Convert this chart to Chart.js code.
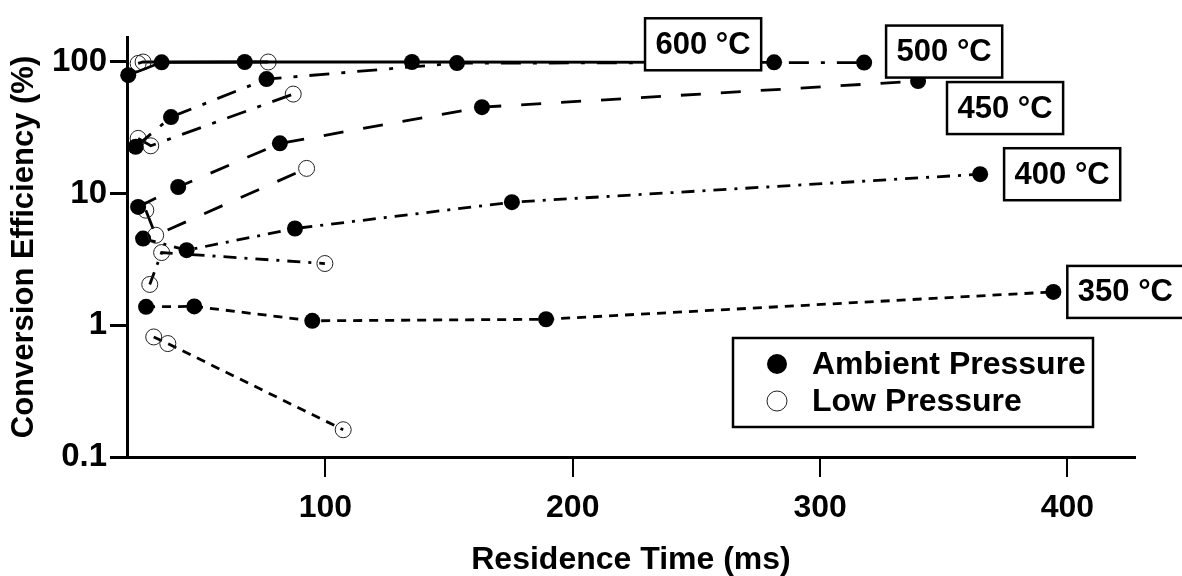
<!DOCTYPE html>
<html>
<head>
<meta charset="utf-8">
<script src="https://cdn.jsdelivr.net/npm/chart.js@4.4.1/dist/chart.umd.min.js"></script>
<style>
  html, body { margin: 0; padding: 0; background: #fff; }
  #wrap { width: 1182px; height: 576px; }
</style>
</head>
<body>
<div id="wrap"><canvas id="chart"></canvas></div>
<script>
const temps = ['600 °C', '500 °C', '450 °C', '400 °C', '350 °C'];
const xTicks = [100, 200, 300, 400];
const yTicks = [0.1, 1, 10, 100];
const legendNames = ['Ambient Pressure', 'Low Pressure'];

// residence time (ms) / conversion efficiency (%)
const amb600Time = [20.3, 33.8, 67.4, 135, 281.4];
const amb600Eff = [79, 99, 99.5, 99.5, 99];
const low600Time = [24.3, 26.3, 76.9];
const low600Eff = [97, 99.5, 99.5];

const amb500Time = [23.3, 37.6, 76.2, 153.2, 317.8];
const amb500Eff = [22.6, 38, 73.8, 97.6, 98.5];
const low500Time = [24.3, 29.4, 87.0];
const low500Eff = [26.2, 23.0, 56.8];

const amb450Time = [24.3, 40.5, 81.6, 163.3, 339.6];
const amb450Eff = [7.9, 11.2, 24.0, 45.2, 71.3];
const low450Time = [27.4, 31.4, 92.4];
const low450Eff = [7.47, 4.82, 15.5];

const amb400Time = [26.3, 43.9, 87.7, 175.4, 364.7];
const amb400Eff = [4.55, 3.71, 5.42, 8.59, 14.0];
const low400Time = [29.0, 33.8, 99.8];
const low400Eff = [2.04, 3.56, 2.94];

const amb350Time = [27.5, 47.0, 94.7, 189.2, 394.3];
const amb350Eff = [1.38, 1.39, 1.08, 1.11, 1.79];
const low350Time = [30.6, 36.3, 107.2];
const low350Eff = [0.815, 0.726, 0.161];

const series = [
  [amb600Time, amb600Eff, low600Time, low600Eff],
  [amb500Time, amb500Eff, low500Time, low500Eff],
  [amb450Time, amb450Eff, low450Time, low450Eff],
  [amb400Time, amb400Eff, low400Time, low400Eff],
  [amb350Time, amb350Eff, low350Time, low350Eff]
];

// line style per temperature
const dashes = [[], [20, 12, 4, 12], [20, 20], [13, 8, 3, 8], [9, 7]];
// label box centre, offset in px from the last ambient point
const labelOffsets = [[-71, -18], [80, -11], [87, 27], [82, 0], [72, 0]];

const FONT = '"Liberation Sans", Arial, sans-serif';

const pts = (xs, ys) => xs.map((x, i) => ({ x: x, y: ys[i] }));

const datasets = [];
series.forEach((s, i) => {
  datasets.push({
    label: temps[i] + ' ambient',
    data: pts(s[0], s[1]),
    showLine: true,
    borderColor: '#000',
    borderWidth: 2.8,
    borderDash: dashes[i],
    pointRadius: 8,
    pointBackgroundColor: '#000',
    pointBorderWidth: 0,
    clip: false
  });
  datasets.push({
    label: temps[i] + ' low',
    data: pts(s[2], s[3]),
    showLine: true,
    borderColor: '#000',
    borderWidth: 2.8,
    borderDash: dashes[i],
    pointRadius: 8,
    pointBackgroundColor: 'rgba(0,0,0,0)',
    pointBorderColor: '#222',
    pointBorderWidth: 1,
    clip: false
  });
});

const overlay = {
  id: 'overlay',
  afterDatasetsDraw(chart) {
    const ctx = chart.ctx;
    ctx.save();
    ctx.font = 'bold 31px ' + FONT;
    ctx.textAlign = 'center';
    ctx.textBaseline = 'middle';
    temps.forEach((t, i) => {
      const meta = chart.getDatasetMeta(i * 2);
      const p = meta.data[meta.data.length - 1];
      const cx = p.x + labelOffsets[i][0];
      const cy = p.y + labelOffsets[i][1];
      const w = ctx.measureText(t).width + 21;
      const h = 52;
      ctx.fillStyle = '#fff';
      ctx.fillRect(cx - w / 2, cy - h / 2, w, h);
      ctx.strokeStyle = '#000';
      ctx.lineWidth = 2.5;
      ctx.strokeRect(cx - w / 2, cy - h / 2, w, h);
      ctx.fillStyle = '#000';
      ctx.fillText(t, cx, cy + 1);
    });

    // legend box
    const lx = 733, ly = 338, lw = 360, lh = 89;
    ctx.fillStyle = '#fff';
    ctx.fillRect(lx, ly, lw, lh);
    ctx.strokeStyle = '#000';
    ctx.lineWidth = 2.5;
    ctx.strokeRect(lx, ly, lw, lh);
    ctx.textAlign = 'left';
    ctx.font = 'bold 32px ' + FONT;
    legendNames.forEach((name, i) => {
      const y = ly + 26 + i * 37;
      ctx.beginPath();
      ctx.arc(lx + 44, y, 10, 0, Math.PI * 2);
      if (i === 0) {
        ctx.fillStyle = '#000';
        ctx.fill();
      } else {
        ctx.lineWidth = 1;
        ctx.strokeStyle = '#222';
        ctx.stroke();
      }
      ctx.fillStyle = '#000';
      ctx.fillText(name, lx + 79, y + 1);
    });
    ctx.restore();
  }
};

new Chart(document.getElementById('chart'), {
  type: 'scatter',
  data: { datasets: datasets },
  plugins: [overlay],
  options: {
    responsive: true,
    maintainAspectRatio: false,
    animation: false,
    layout: { padding: { top: 37, right: 47, left: 0, bottom: 0 } },
    plugins: { legend: { display: false }, tooltip: { enabled: false } },
    scales: {
      x: {
        type: 'linear',
        min: 19.8,
        max: 427.3,
        afterBuildTicks: scale => { scale.ticks = xTicks.map(v => ({ value: v })); },
        afterFit: scale => { scale.height = 119; },
        border: { display: true, color: '#000', width: 3 },
        grid: { display: true, drawOnChartArea: false, drawTicks: true, tickLength: 20, color: '#000', lineWidth: 2 },
        ticks: { color: '#000', padding: 12, font: { family: FONT, size: 32, weight: 'bold' }, maxRotation: 0 },
        title: {
          display: true,
          text: 'Residence Time (ms)',
          color: '#000',
          font: { family: FONT, size: 32, weight: 'bold', lineHeight: 1 },
          padding: { top: 0, bottom: 0 }
        }
      },
      y: {
        type: 'logarithmic',
        min: 0.1,
        max: 154,
        afterBuildTicks: scale => { scale.ticks = yTicks.map(v => ({ value: v })); },
        afterFit: scale => { scale.width = 127; },
        border: { display: true, color: '#000', width: 3 },
        grid: { display: true, drawOnChartArea: false, drawTicks: true, tickLength: 17, color: '#000', lineWidth: 3 },
        ticks: {
          color: '#000',
          padding: 3,
          font: { family: FONT, size: 33, weight: 'bold' },
          callback: v => String(v)
        },
        title: {
          display: true,
          text: 'Conversion Efficiency (%)',
          color: '#000',
          font: { family: FONT, size: 31, weight: 'bold', lineHeight: 1.2 },
          padding: { top: 6, bottom: 4 }
        }
      }
    }
  }
});
</script>
</body>
</html>
